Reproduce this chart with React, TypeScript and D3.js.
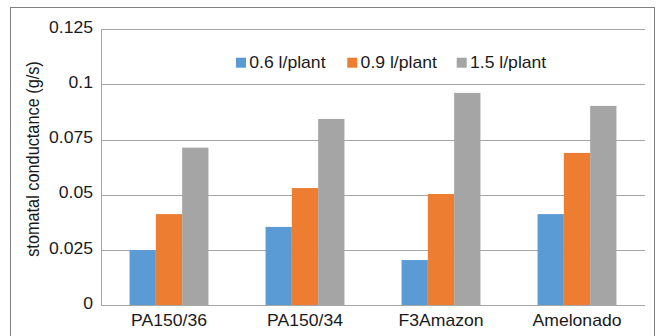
import React from "react";
import * as d3 from "d3";

const categories = ["PA150/36", "PA150/34", "F3Amazon", "Amelonado"];
const seriesNames = ["0.6 l/plant", "0.9 l/plant", "1.5 l/plant"];
const series06 = [0.025, 0.0355, 0.0205, 0.0413];
const series09 = [0.0413, 0.0531, 0.0504, 0.069];
const series15 = [0.0714, 0.0844, 0.0962, 0.0903];
const colors = ["#5B9BD5", "#ED7D31", "#A5A5A5"];
const yTicks = [0, 0.025, 0.05, 0.075, 0.1, 0.125];
const yTickLabels = ["0", "0.025", "0.05", "0.075", "0.1", "0.125"];
const yTitle = "stomatal conductance (g/s)";

const W = 657;
const H = 336;
const plot = { left: 101, right: 645, top: 29.3, bottom: 305.3 };
const SX = 1.1;
const FONT = "'Liberation Sans', Arial, sans-serif";

export default function App() {
  const allSeries = [series06, series09, series15];
  const x = d3
    .scaleBand<string>()
    .domain(categories)
    .range([plot.left, plot.right])
    .paddingInner(0.42)
    .paddingOuter(0.21);
  const xs = d3
    .scaleBand<number>()
    .domain(d3.range(seriesNames.length))
    .range([0, x.bandwidth()]);
  const y = d3.scaleLinear().domain([0, 0.125]).range([plot.bottom, plot.top]);

  const legendX = [236, 347.3, 456.7];
  const legendY = 57.7;

  return (
    <svg
      width={W}
      height={H}
      style={{ position: "absolute", left: 0, top: 0, background: "#fff" }}
      fontFamily={FONT}
    >
      <rect x={0} y={0} width={W} height={H} fill="#fff" />
      <rect x={10.5} y={7.5} width={644} height={340} fill="#fff" stroke="#7f7f7f" strokeWidth={1} />
      {yTicks.map((t, i) =>
        i === 0 ? null : (
          <line
            key={"g" + i}
            x1={plot.left}
            x2={plot.right}
            y1={Math.round(y(t)) + 0.5}
            y2={Math.round(y(t)) + 0.5}
            stroke="#a6a6a6"
            strokeWidth={1}
          />
        )
      )}
      {allSeries.map((vals, si) =>
        vals.map((v, ci) => (
          <rect
            key={`b${si}-${ci}`}
            x={(x(categories[ci]) as number) + (xs(si) as number)}
            y={y(v)}
            width={xs.bandwidth()}
            height={y(0) - y(v)}
            fill={colors[si]}
          />
        ))
      )}
      <line
        x1={plot.left}
        x2={plot.right}
        y1={Math.round(y(0)) + 0.5}
        y2={Math.round(y(0)) + 0.5}
        stroke="#a6a6a6"
      />
      <line
        x1={plot.left + 0.5}
        x2={plot.left + 0.5}
        y1={Math.round(y(0.125))}
        y2={Math.round(y(0)) + 1}
        stroke="#a6a6a6"
      />
      {yTicks.map((t, i) => (
        <g key={"yl" + i} transform={`translate(93,${y(t) + 3.5}) scale(${SX},1)`}>
          <text textAnchor="end" fontSize={16} fill="#1a1a1a">
            {yTickLabels[i]}
          </text>
        </g>
      ))}
      {categories.map((c) => (
        <g
          key={"xl" + c}
          transform={`translate(${(x(c) as number) + x.bandwidth() / 2},325.5) scale(${SX},1)`}
        >
          <text textAnchor="middle" fontSize={16} fill="#1a1a1a">
            {c}
          </text>
        </g>
      ))}
      <g transform={`translate(39,159) rotate(-90) scale(1,${SX})`}>
        <text textAnchor="middle" fontSize={16.3} fill="#1a1a1a">
          {yTitle}
        </text>
      </g>
      {seriesNames.map((n, i) => (
        <g key={"lg" + i}>
          <rect x={legendX[i]} y={legendY} width={10} height={10} fill={colors[i]} />
          <g transform={`translate(${legendX[i] + 13.3},${legendY + 10.3}) scale(${SX},1)`}>
            <text fontSize={16} fill="#1a1a1a">
              {n}
            </text>
          </g>
        </g>
      ))}
    </svg>
  );
}
